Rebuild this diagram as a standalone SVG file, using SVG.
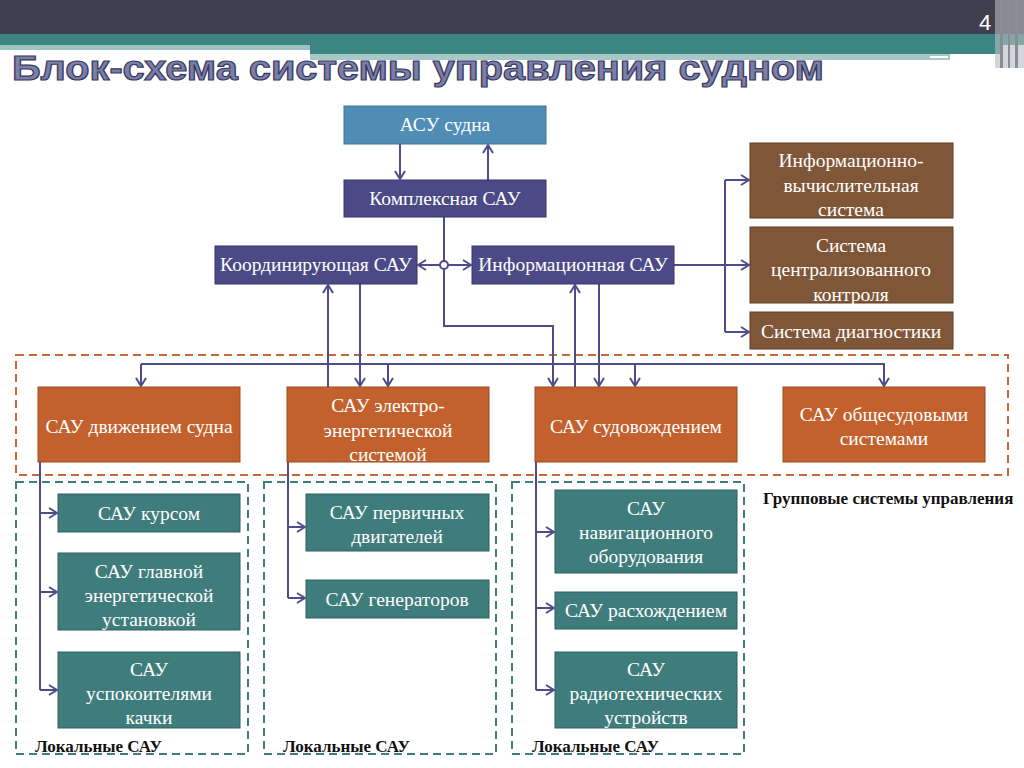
<svg xmlns="http://www.w3.org/2000/svg" width="1024" height="768" viewBox="0 0 1024 768">
<defs>
<marker id="ah" viewBox="0 0 10 12" markerWidth="10" markerHeight="12" refX="9" refY="6" orient="auto" markerUnits="userSpaceOnUse">
<path d="M1,1 L9,6 L1,11" fill="none" stroke="#4e4c8a" stroke-width="2"/>
</marker>
</defs>
<style>
.t{font-family:"Liberation Serif","Times New Roman",serif;font-size:19.5px;fill:#ffffff;text-anchor:middle}
.lbl{font-family:"Liberation Serif","Times New Roman",serif;font-size:17px;font-weight:bold;fill:#111111}
.blue{fill:#4f8db5;stroke:#3f7595;stroke-width:1}
.ind{fill:#4b4a86;stroke:#36356a;stroke-width:1}
.brn{fill:#7f5637;stroke:#5e3f27;stroke-width:1}
.org{fill:#c2612d;stroke:#9b4a22;stroke-width:1}
.tea{fill:#3f7c7c;stroke:#2e5e5e;stroke-width:1}
.c{fill:none;stroke:#4e4c8a;stroke-width:2}
.ca{fill:none;stroke:#4e4c8a;stroke-width:2;marker-end:url(#ah)}
.dO{fill:none;stroke:#c8693c;stroke-width:2;stroke-dasharray:8 5}
.dT{fill:none;stroke:#3f7c7c;stroke-width:2;stroke-dasharray:8 5}
</style>
<rect width="1024" height="768" fill="#ffffff"/>
<g id="header">
<rect x="0" y="0" width="1024" height="34" fill="#3f3f50"/>
<rect x="0" y="34" width="1024" height="11" fill="#3d8582"/>
<rect x="0" y="45" width="310" height="5" fill="#9cc3c2"/>
<rect x="310" y="45" width="690" height="9" fill="#3d8582"/>
<rect x="310" y="54" width="640" height="6" fill="#a8c8c7"/>
<rect x="930" y="56" width="18" height="2" fill="#ffffff"/>
<rect x="995" y="0" width="29" height="68" fill="#b8bcc0" opacity="0.6"/>
<rect x="1000" y="0" width="3" height="68" fill="#8a8e94"/>
<rect x="1008" y="0" width="2" height="68" fill="#8a8e94"/>
<rect x="1015" y="0" width="3" height="68" fill="#8a8e94"/>
<text x="985" y="30" font-family="Liberation Sans, Arial, sans-serif" font-size="22" fill="#ffffff" text-anchor="middle">4</text>
</g>
<text x="12" y="80" font-family="Liberation Sans, Arial, sans-serif" font-size="35" font-weight="bold" fill="#7b7fa8" stroke="#3a3a60" stroke-width="1.2" textLength="812" lengthAdjust="spacingAndGlyphs">Блок-схема системы управления судном</text>

<g id="groups">
<rect x="16" y="355" width="992" height="120" class="dO"/>
<rect x="16" y="482" width="232" height="272" class="dT"/>
<rect x="264" y="482" width="232" height="272" class="dT"/>
<rect x="512" y="482" width="232" height="272" class="dT"/>
<text x="763" y="504" class="lbl">Групповые системы управления</text>
<text x="35" y="752" class="lbl">Локальные САУ</text>
<text x="283" y="752" class="lbl">Локальные САУ</text>
<text x="532" y="752" class="lbl">Локальные САУ</text>
</g>

<g id="connectors">
<path class="ca" d="M400,144 V179"/>
<path class="ca" d="M488,180 V145"/>
<path class="c" d="M444,217 V261"/>
<path class="ca" d="M440,265 H418"/>
<path class="ca" d="M448,265 H471"/>
<path class="ca" d="M444,269 V326 H553 V386"/>
<path class="ca" d="M328,387 V285"/>
<path class="ca" d="M360,284 V386"/>
<path class="ca" d="M575,387 V285"/>
<path class="ca" d="M599,284 V386"/>
<path class="ca" d="M141,364 H884 V386"/>
<path class="ca" d="M141,364 V386"/>
<path class="ca" d="M388,364 V386"/>
<path class="ca" d="M635,364 V386"/>
<path class="ca" d="M674,265 H749"/>
<path class="c" d="M725,180 V332"/>
<path class="ca" d="M725,180 H749"/>
<path class="ca" d="M725,332 H749"/>
<path class="c" d="M40,462 V690"/>
<path class="ca" d="M40,513 H57"/>
<path class="ca" d="M40,592 H57"/>
<path class="ca" d="M40,690 H57"/>
<path class="c" d="M288,462 V598"/>
<path class="ca" d="M288,527 H305"/>
<path class="ca" d="M288,598 H305"/>
<path class="c" d="M536,462 V690"/>
<path class="ca" d="M536,532 H554"/>
<path class="ca" d="M536,608 H554"/>
<path class="ca" d="M536,690 H554"/>
<circle cx="444" cy="265" r="4" fill="#ffffff" stroke="#4e4c8a" stroke-width="2"/>
</g>

<g id="asu"><rect x="344" y="106" width="202" height="38" class="blue"/><text x="445" y="131" class="t">АСУ судна</text></g>
<g id="kompleks"><rect x="344" y="180" width="202" height="37" class="ind"/><text x="445" y="205" class="t">Комплексная САУ</text></g>
<g id="koord"><rect x="215" y="246" width="202" height="38" class="ind"/><text x="316" y="271" class="t">Координирующая САУ</text></g>
<g id="inform"><rect x="472" y="246" width="202" height="38" class="ind"/><text x="573" y="271" class="t">Информационная САУ</text></g>

<g id="ivs"><rect x="750" y="143" width="203" height="75" class="brn"/><text x="851" y="167" class="t">Информационно-</text><text x="851" y="192" class="t">вычислительная</text><text x="851" y="216" class="t">система</text></g>
<g id="sck"><rect x="750" y="227" width="203" height="76" class="brn"/><text x="851" y="252" class="t">Система</text><text x="851" y="276" class="t">централизованного</text><text x="851" y="301" class="t">контроля</text></g>
<g id="diag"><rect x="750" y="312" width="203" height="37" class="brn"/><text x="851" y="338" class="t">Система диагностики</text></g>

<g id="dvizh"><rect x="38" y="387" width="202" height="75" class="org"/><text x="139" y="433" class="t">САУ движением судна</text></g>
<g id="elektro"><rect x="287" y="387" width="202" height="75" class="org"/><text x="388" y="412" class="t">САУ электро-</text><text x="388" y="437" class="t">энергетической</text><text x="388" y="461" class="t">системой</text></g>
<g id="sudovozh"><rect x="535" y="387" width="202" height="75" class="org"/><text x="636" y="433" class="t">САУ судовождением</text></g>
<g id="obsch"><rect x="783" y="387" width="202" height="75" class="org"/><text x="884" y="421" class="t">САУ общесудовыми</text><text x="884" y="445" class="t">системами</text></g>

<g id="kurs"><rect x="58" y="494" width="182" height="38" class="tea"/><text x="149" y="520" class="t">САУ курсом</text></g>
<g id="geu"><rect x="58" y="553" width="182" height="77" class="tea"/><text x="149" y="578" class="t">САУ главной</text><text x="149" y="602" class="t">энергетической</text><text x="149" y="626" class="t">установкой</text></g>
<g id="uspok"><rect x="58" y="652" width="182" height="76" class="tea"/><text x="149" y="676" class="t">САУ</text><text x="149" y="700" class="t">успокоителями</text><text x="149" y="724" class="t">качки</text></g>

<g id="pervich"><rect x="306" y="494" width="183" height="57" class="tea"/><text x="397" y="519" class="t">САУ первичных</text><text x="397" y="543" class="t">двигателей</text></g>
<g id="gener"><rect x="306" y="580" width="183" height="38" class="tea"/><text x="397" y="606" class="t">САУ генераторов</text></g>

<g id="navig"><rect x="555" y="490" width="182" height="83" class="tea"/><text x="646" y="515" class="t">САУ</text><text x="646" y="539" class="t">навигационного</text><text x="646" y="563" class="t">оборудования</text></g>
<g id="rasx"><rect x="555" y="592" width="182" height="37" class="tea"/><text x="646" y="617" class="t">САУ расхождением</text></g>
<g id="radio"><rect x="555" y="652" width="182" height="76" class="tea"/><text x="646" y="676" class="t">САУ</text><text x="646" y="700" class="t">радиотехнических</text><text x="646" y="724" class="t">устройств</text></g>
</svg>
